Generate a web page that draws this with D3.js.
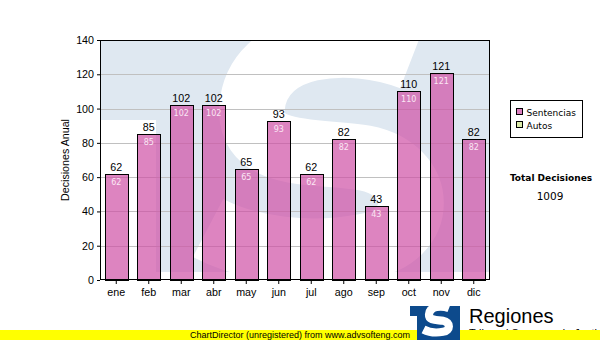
<!DOCTYPE html>
<html>
<head>
<meta charset="utf-8">
<script src="https://cdn.jsdelivr.net/npm/d3@7"></script>
<style>
    body { margin: 0; background: #fff; }
    svg { display: block; }
</style>
</head>
<body>
<div id="chart"></div>
<script>
const months = ['ene', 'feb', 'mar', 'abr', 'may', 'jun', 'jul', 'ago', 'sep', 'oct', 'nov', 'dic'];
const sentencias = [62, 85, 102, 102, 65, 93, 62, 82, 43, 110, 121, 82];
const yTicks = [0, 20, 40, 60, 80, 100, 120, 140];
const legendItems = [
    {name: 'Sentencias', color: '#dc7fc0'},
    {name: 'Autos', color: '#dcecaa'}
];
const yTitle = 'Decisiones Anual';
const totalTitle = 'Total Decisiones';
const logoTitle = 'Regiones';
const logoSub = 'Tribunal Supremo de Justicia';
const footer = 'ChartDirector (unregistered) from www.advsofteng.com';

// "S" logo, in logo units (the watermark is the same logo scaled up)
const sPath = 'M39,2.2 C31.25,-0.8 19.6,0 19,8.5 C18.6,15 27.5,13.75 33.1,14.75 ' +
    'C40.8,16.25 40.8,24.6 33.1,25.8 C26.25,27.1 18.75,26.25 13.5,23.5';

const drawLogo = function drawLogo(g, color, h) {
    g.append('path')
        .attr('d', 'M0,0H50V' + h + 'H7V10H0Z')
        .attr('fill', color);
    g.append('path')
        .attr('d', sPath)
        .attr('fill', 'none')
        .attr('stroke', '#fff')
        .attr('stroke-width', 8.2);
};

const arial = 'Arial, "Liberation Sans", sans-serif';
const verdana = '"DejaVu Sans", Verdana, sans-serif';

const margin = {top: 40, right: 110, bottom: 60, left: 100};
const width = 600 - margin.left - margin.right;
const height = 340 - margin.top - margin.bottom;

const data = months.map((m, i) => { return {month: m, value: sentencias[i]} });

const x = d3.scaleBand()
    .domain(months)
    .range([0, width])
    .paddingInner(0.28)
    .paddingOuter(0.14);
const y = d3.scaleLinear()
    .domain([0, 140])
    .range([height, 0]);

const svg = d3.select('#chart').append('svg')
    .attr('width', 600)
    .attr('height', 340);

svg.append('defs').append('clipPath')
    .attr('id', 'plot-clip')
  .append('rect')
    .attr('width', width)
    .attr('height', height);

const g = svg.append('g')
    .attr('transform', 'translate(' + margin.left + ',' + margin.top + ')');

// watermark
g.append('g')
    .attr('clip-path', 'url(#plot-clip)')
  .append('g')
    .attr('transform', 'scale(8)')
    .call(drawLogo, '#dfe8f1', 29);

// grid
g.selectAll('.grid')
    .data(yTicks.filter((d) => { return d > 0 && d < 140 }))
    .enter()
  .append('line')
    .attr('class', 'grid')
    .attr('x1', 0)
    .attr('x2', width)
    .attr('y1', (d) => { return Math.round(y(d)) + 0.5 })
    .attr('y2', (d) => { return Math.round(y(d)) + 0.5 })
    .attr('stroke', '#c0c0c0');

// bars
const bar = g.selectAll('.bar')
    .data(data)
    .enter()
  .append('g')
    .attr('class', 'bar');

bar.append('rect')
    .attr('x', (d) => { return Math.round(x(d.month)) + 0.5 })
    .attr('y', (d) => { return Math.round(y(d.value)) + 0.5 })
    .attr('width', Math.round(x.bandwidth()))
    .attr('height', (d) => { return Math.round(y(0)) - Math.round(y(d.value)) })
    .attr('fill', 'rgb(206,80,165)')
    .attr('fill-opacity', 0.7)
    .attr('stroke', '#000');

bar.append('text')
    .attr('x', (d) => { return x(d.month) + x.bandwidth() / 2 })
    .attr('y', (d) => { return y(d.value) - 3 })
    .attr('text-anchor', 'middle')
    .style('font', '10.7px ' + arial)
    .text((d) => { return d.value });

bar.append('text')
    .attr('x', (d) => { return x(d.month) + x.bandwidth() / 2 })
    .attr('y', (d) => { return y(d.value) + 11 })
    .attr('text-anchor', 'middle')
    .attr('fill', '#fbe6f4')
    .style('font', '8px ' + verdana)
    .text((d) => { return d.value });

// axes
const yAxis = g.append('g')
    .call(d3.axisLeft(y).tickValues(yTicks).tickSize(3).tickPadding(3).tickSizeOuter(0));
const xAxis = g.append('g')
    .attr('transform', 'translate(0,' + height + ')')
    .call(d3.axisBottom(x).tickSize(4).tickPadding(4).tickSizeOuter(0));

[yAxis, xAxis].forEach((a) => {
    a.select('.domain').remove();
    a.selectAll('text')
        .attr('fill', '#000')
        .style('font', '10.7px ' + arial);
    a.selectAll('line').attr('stroke', '#000');
});

g.append('rect')
    .attr('x', 0.5)
    .attr('y', 0.5)
    .attr('width', width - 1)
    .attr('height', height - 1)
    .attr('fill', 'none')
    .attr('stroke', '#000');

svg.append('text')
    .attr('transform', 'translate(69,' + (margin.top + height / 2) + ') rotate(-90)')
    .attr('text-anchor', 'middle')
    .style('font', '10.7px ' + arial)
    .text(yTitle);

// legend
const legend = svg.append('g')
    .attr('transform', 'translate(510.5,100.5)');

legend.append('rect')
    .attr('width', 72)
    .attr('height', 37)
    .attr('fill', '#fff')
    .attr('stroke', '#000');

const item = legend.selectAll('.item')
    .data(legendItems)
    .enter()
  .append('g')
    .attr('class', 'item')
    .attr('transform', (d, i) => { return 'translate(6,' + (8 + i * 13) + ')' });

item.append('rect')
    .attr('width', 6)
    .attr('height', 6)
    .attr('fill', (d) => { return d.color })
    .attr('stroke', '#000');

item.append('text')
    .attr('x', 10)
    .attr('y', 7)
    .style('font', '9px ' + verdana)
    .text((d) => { return d.name });

// total
svg.append('text')
    .attr('x', 551)
    .attr('y', 181)
    .attr('text-anchor', 'middle')
    .style('font', 'bold 9px ' + verdana)
    .text(totalTitle);

svg.append('text')
    .attr('x', 550)
    .attr('y', 200)
    .attr('text-anchor', 'middle')
    .style('font', '10.5px ' + verdana)
    .text(d3.sum(sentencias));

// logo + footer
svg.append('text')
    .attr('x', 469)
    .attr('y', 323)
    .style('font', '20px ' + arial)
    .text(logoTitle);

svg.append('text')
    .attr('x', 469)
    .attr('y', 337)
    .style('font', '11px ' + arial)
    .text(logoSub);

svg.append('rect')
    .attr('y', 330)
    .attr('width', 600)
    .attr('height', 10)
    .attr('fill', '#ffff00');

svg.append('text')
    .attr('x', 300)
    .attr('y', 338)
    .attr('text-anchor', 'middle')
    .style('font', '9px ' + arial)
    .text(footer);

svg.append('g')
    .attr('transform', 'translate(410,306)')
    .call(drawLogo, '#0d4a8c', 36);
</script>
</body>
</html>
